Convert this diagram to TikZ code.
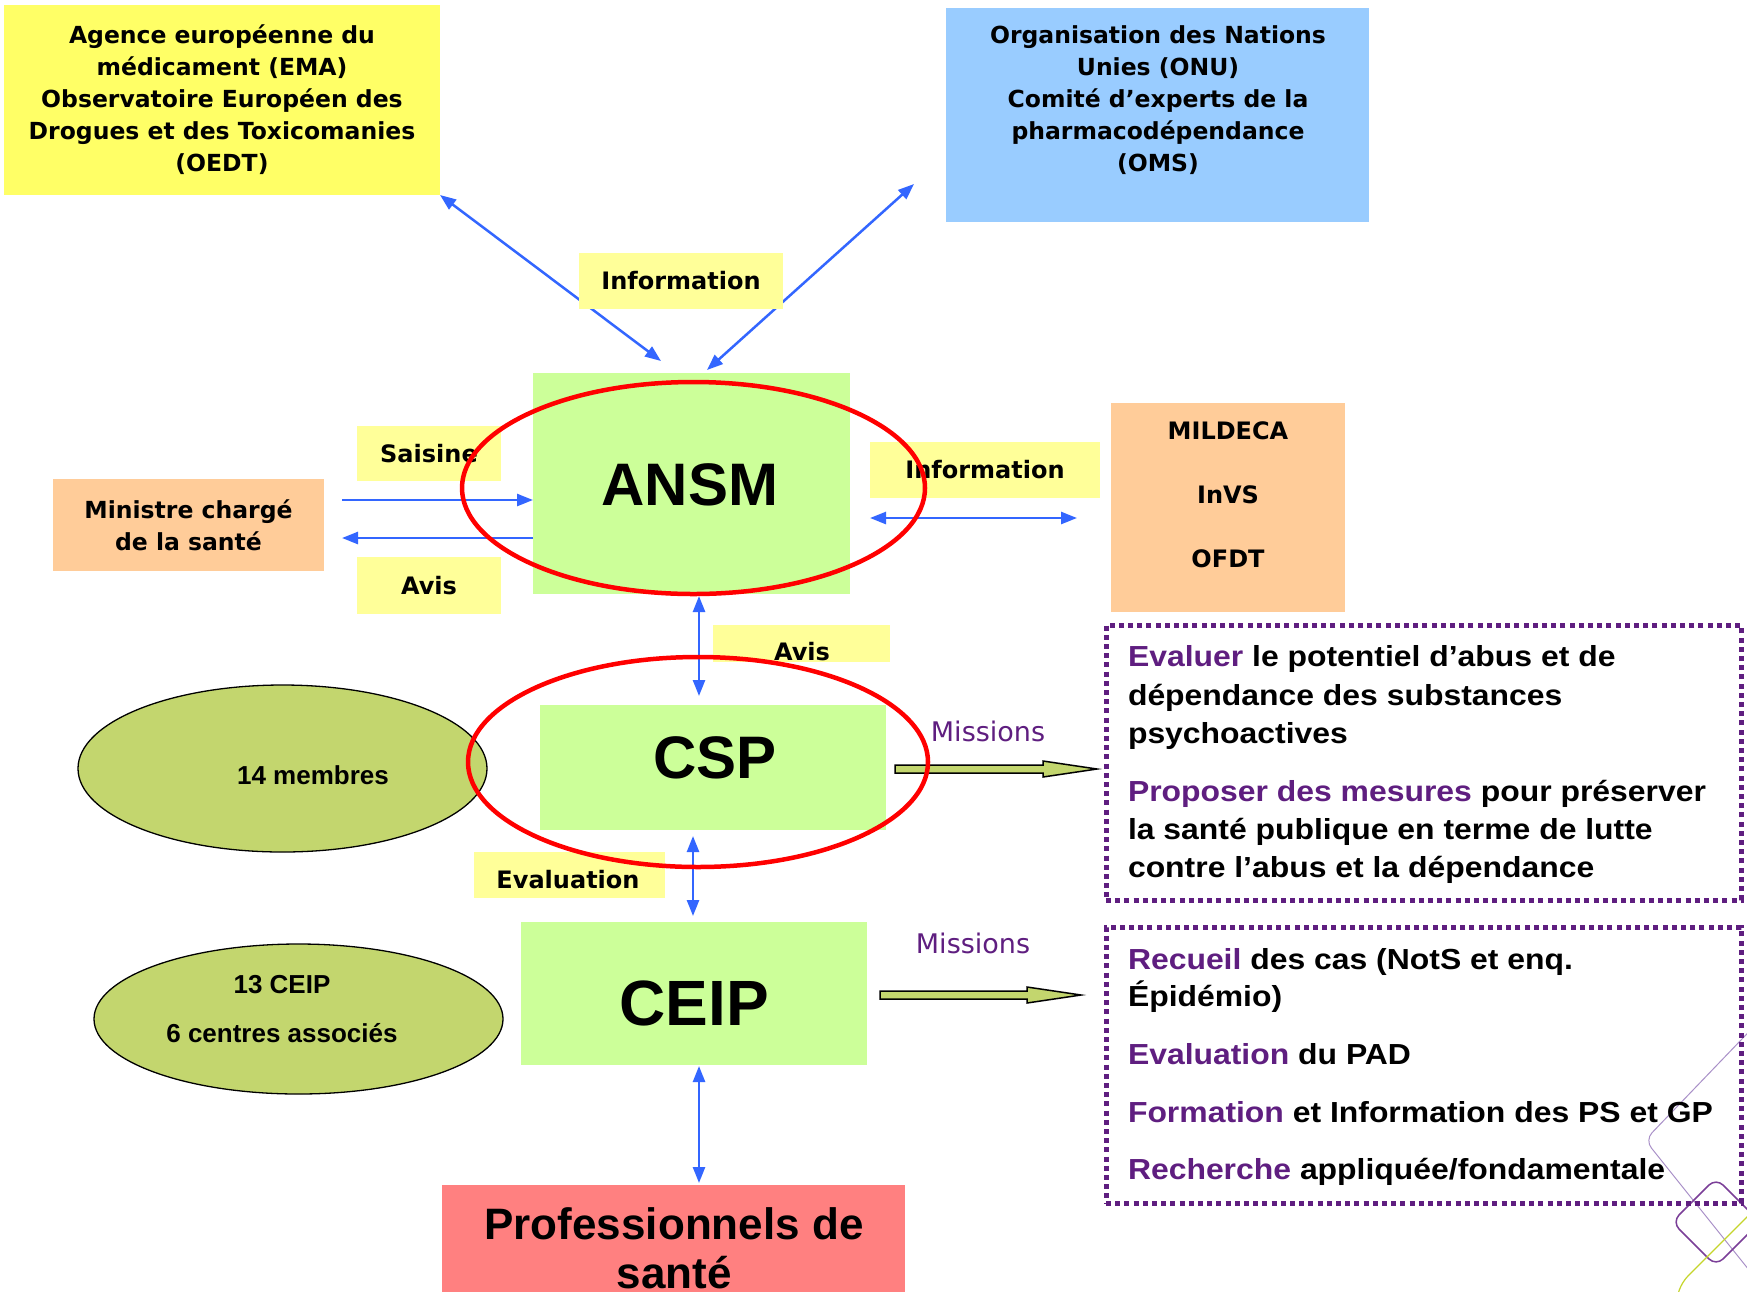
\documentclass[tikz,border=0pt]{standalone}
\usepackage{fontspec}
\setmainfont{DejaVu Sans}
\newfontfamily\myarial{Liberation Sans}
\newfontfamily\mymisf[FakeStretch=1.1]{Liberation Sans}
\usetikzlibrary{arrows.meta,shapes.geometric,calc}
\definecolor{emayellow}{HTML}{FFFF66}
\definecolor{onublue}{HTML}{99CCFF}
\definecolor{lblyellow}{HTML}{FFFF99}
\definecolor{boxgreen}{HTML}{CCFF99}
\definecolor{boxorange}{HTML}{FFCC99}
\definecolor{ellgreen}{HTML}{C3D66E}
\definecolor{profred}{HTML}{FF8080}
\definecolor{arrblue}{HTML}{3366FF}
\definecolor{mpurple}{HTML}{5F1E80}
\definecolor{ringred}{HTML}{FF0000}
\definecolor{decolight}{HTML}{A990C8}
\definecolor{decodark}{HTML}{7B3F98}
\definecolor{decogreen}{HTML}{C5D52B}
\newcommand\myfBox{\fontsize{23.5}{32}\selectfont\bfseries}
\newcommand\myfLbl{\fontsize{24}{30}\selectfont\bfseries}
\newcommand\myfBig{\myarial\fontsize{60}{60}\selectfont\bfseries}
\newcommand\myfBigC{\myarial\fontsize{64}{64}\selectfont\bfseries}
\newcommand\myfProf{\myarial\fontsize{44}{49}\selectfont\bfseries}
\newcommand\myfEll{\myarial\fontsize{26}{30}\selectfont\bfseries}
\newcommand\myfMis{\mymisf\fontsize{29}{38}\selectfont\bfseries}
\newcommand\myfMiss{\fontsize{27}{30}\selectfont}
\newcommand\kw[1]{\textcolor{mpurple}{#1}}
\begin{document}
\begin{tikzpicture}[x=1pt,y=-1pt,
  >={Triangle[length=16pt,width=12pt]},
  fillbox/.style={draw=none,inner sep=0pt,outer sep=0pt,align=center},
  txt/.style={inner sep=0pt,outer sep=0pt,align=center},
  bluearrow/.style={draw=arrblue,line width=2.5pt},
  ring/.style={ellipse,draw=ringred,line width=4.5pt,inner sep=0pt,outer sep=0pt},
  olive/.style={ellipse,draw=black,line width=1.3pt,fill=ellgreen,inner sep=0pt,outer sep=0pt},
  missarrow/.style={fill=ellgreen,draw=black,line width=1.5pt,line join=miter},
  dotbox/.style={draw=mpurple,line width=5pt,dash pattern=on 5pt off 4.2pt,inner sep=0pt,outer sep=0pt},
  misline/.style={anchor=base west,inner sep=0pt,outer sep=0pt,font=\myfMis}
]
\useasboundingbox (0,0) rectangle (1747,1291);
\clip (0,0) rectangle (1747,1291);
\fill[white] (0,0) rectangle (1747,1291);

% decorations
\draw[decolight,line width=1pt,rounded corners=10pt] (1765,1015) -- (1645,1140) -- (1765,1290);
\draw[decodark,line width=1.5pt,rounded corners=10pt] (1716,1178) -- (1760,1222) -- (1716,1266) -- (1672,1222) -- cycle;
\draw[decogreen,line width=1.2pt,rounded corners=8pt] (1765,1199) -- (1682,1282) -- (1676,1300);

% top boxes
\node[fillbox,fill=emayellow,minimum width=436pt,minimum height=190pt,font=\myfBox] (ema) at (222,100)
  {Agence européenne du\\médicament (EMA)\\Observatoire Européen des\\Drogues et des Toxicomanies\\(OEDT)};
\node[fillbox,fill=onublue,minimum width=423pt,minimum height=214pt] (onu) at (1157.5,115) {};
\node[txt,font=\myfBox] (onutxt) at (1158,100)
  {Organisation des Nations\\Unies (ONU)\\Comité d’experts de la\\pharmacodépendance\\(OMS)};

% ANSM
\node[fillbox,fill=boxgreen,minimum width=317pt,minimum height=221pt] (ansm) at (691.5,483.5) {};
\node[txt,font=\myfBig] (ansmtxt) at (690,485) {ANSM};

% arrows top
\coordinate (ansmTL) at (661,361);
\coordinate (onuTip) at (914,184);
\coordinate (ansmTR) at (707,370);
\draw[bluearrow,<->] (ema.south east) -- (ansmTL);
\draw[bluearrow,<->] (onuTip) -- (ansmTR);
\node[fillbox,fill=lblyellow,minimum width=204pt,minimum height=56pt,font=\myfLbl] (infotop) at (681,281) {Information};

% Ministre
\node[fillbox,fill=boxorange,minimum width=271pt,minimum height=92pt,font=\myfBox] (ministre) at (188.5,525) {Ministre chargé\\de la santé};
\node[fillbox,fill=lblyellow,minimum width=144pt,minimum height=55pt,font=\myfLbl] (saisine) at (429,453.5) {Saisine};
\node[fillbox,fill=lblyellow,minimum width=144pt,minimum height=57pt,font=\myfLbl] (avis1) at (429,585.5) {Avis};
\coordinate (sa1) at (342,500);
\coordinate (av1) at (342,538);
\draw[bluearrow,->] (sa1) -- (sa1 -| ansm.west);
\draw[bluearrow,->] (av1 -| ansm.west) -- (av1);

% right of ANSM
\node[fillbox,fill=lblyellow,minimum width=230pt,minimum height=56pt,font=\myfLbl] (inforight) at (985,470) {Information};
\coordinate (ir1) at (870,518);
\coordinate (ir2) at (1077,518);
\draw[bluearrow,<->] (ir1) -- (ir2);
\node[fillbox,fill=boxorange,minimum width=234pt,minimum height=209pt] (mild) at (1228,507.5) {};
\node[txt,font=\fontsize{24}{64}\selectfont\bfseries] (mildtxt) at (1228,495) {MILDECA\\InVS\\OFDT};

% CSP
\node[fillbox,fill=lblyellow,minimum width=177pt,minimum height=37pt] (avis2) at (801.5,643.5) {};
\node[txt,font=\myfLbl] (avis2txt) at (802,652) {Avis};
\node[fillbox,fill=boxgreen,minimum width=346pt,minimum height=125pt] (csp) at (713,767.5) {};
\node[txt,font=\myfBig] (csptxt) at (715,758) {CSP};
\coordinate (v1a) at (699,596);
\coordinate (v1b) at (699,696);
\draw[bluearrow,<->] (v1a) -- (v1b);

\node[olive,minimum width=409pt,minimum height=167pt] (memb) at (282.5,768.5) {};
\node[txt,font=\myfEll] (membtxt) at (313,775) {14 membres};

\node[fillbox,fill=lblyellow,minimum width=191pt,minimum height=46pt] (evalu) at (569.5,875) {};
\node[txt,font=\myfLbl] (evalutxt) at (568,880) {Evaluation};
\coordinate (v2a) at (693,836);
\coordinate (v2b) at (693,916);
\draw[bluearrow,<->] (v2a) -- (v2b);

% CEIP
\node[fillbox,fill=boxgreen,minimum width=346pt,minimum height=143pt] (ceip) at (694,993.5) {};
\node[txt,font=\myfBigC] (ceiptxt) at (694,1003) {CEIP};
\node[olive,minimum width=409pt,minimum height=150pt] (ceipell) at (298.5,1019) {};
\node[txt,font=\myfEll] (ceipt1) at (282,985) {13 CEIP};
\node[txt,font=\myfEll] (ceipt2) at (282,1033) {6 centres associés};

% Professionnels
\node[fillbox,fill=profred,minimum width=463pt,minimum height=115pt] (prof) at (673.5,1242.5) {};
\node[txt,font=\myfProf] (proftxt) at (674,1248.5) {Professionnels de\\santé};
\coordinate (v3a) at (699,1066);
\coordinate (v3b) at (699,1183);
\draw[bluearrow,<->] (v3a) -- (v3b);

% missions
\node[txt,font=\myfMiss,text=mpurple] (miss1) at (988,731) {Missions};
\node[txt,font=\myfMiss,text=mpurple] (miss2) at (973,943) {Missions};
\draw[missarrow] (895,765) -- (1043,765) -- (1043,761) -- (1097,769) -- (1043,777) -- (1043,773) -- (895,773) -- cycle;
\draw[missarrow] (880,991) -- (1027,991) -- (1027,987) -- (1081,995) -- (1027,1003) -- (1027,999) -- (880,999) -- cycle;

\node[dotbox,minimum width=635pt,minimum height=275pt] (mbox1) at (1423.5,762.5) {};
\node[dotbox,minimum width=635pt,minimum height=276pt] (mbox2) at (1423.5,1065) {};

\node[misline] (l1) at (1128,666) {\kw{Evaluer} le potentiel d’abus et de};
\node[misline] (l2) at (1128,705) {dépendance des substances};
\node[misline] (l3) at (1128,743) {psychoactives};
\node[misline] (l4) at (1128,801) {\kw{Proposer des mesures} pour préserver};
\node[misline] (l5) at (1128,839) {la santé publique en terme de lutte};
\node[misline] (l6) at (1128,877) {contre l’abus et la dépendance};

\node[misline] (m1) at (1128,969) {\kw{Recueil} des cas (NotS et enq.};
\node[misline] (m2) at (1128,1006) {Épidémio)};
\node[misline] (m3) at (1128,1064) {\kw{Evaluation} du PAD};
\node[misline] (m4) at (1128,1122) {\kw{Formation} et Information des PS et GP};
\node[misline] (m5) at (1128,1179) {\kw{Recherche} appliquée/fondamentale};

% red rings
\node[ring,minimum width=463pt,minimum height=212pt] (ringansm) at (693.5,488) {};
\node[ring,minimum width=460pt,minimum height=210pt] (ringcsp) at (698,762) {};
\end{tikzpicture}
\end{document}
